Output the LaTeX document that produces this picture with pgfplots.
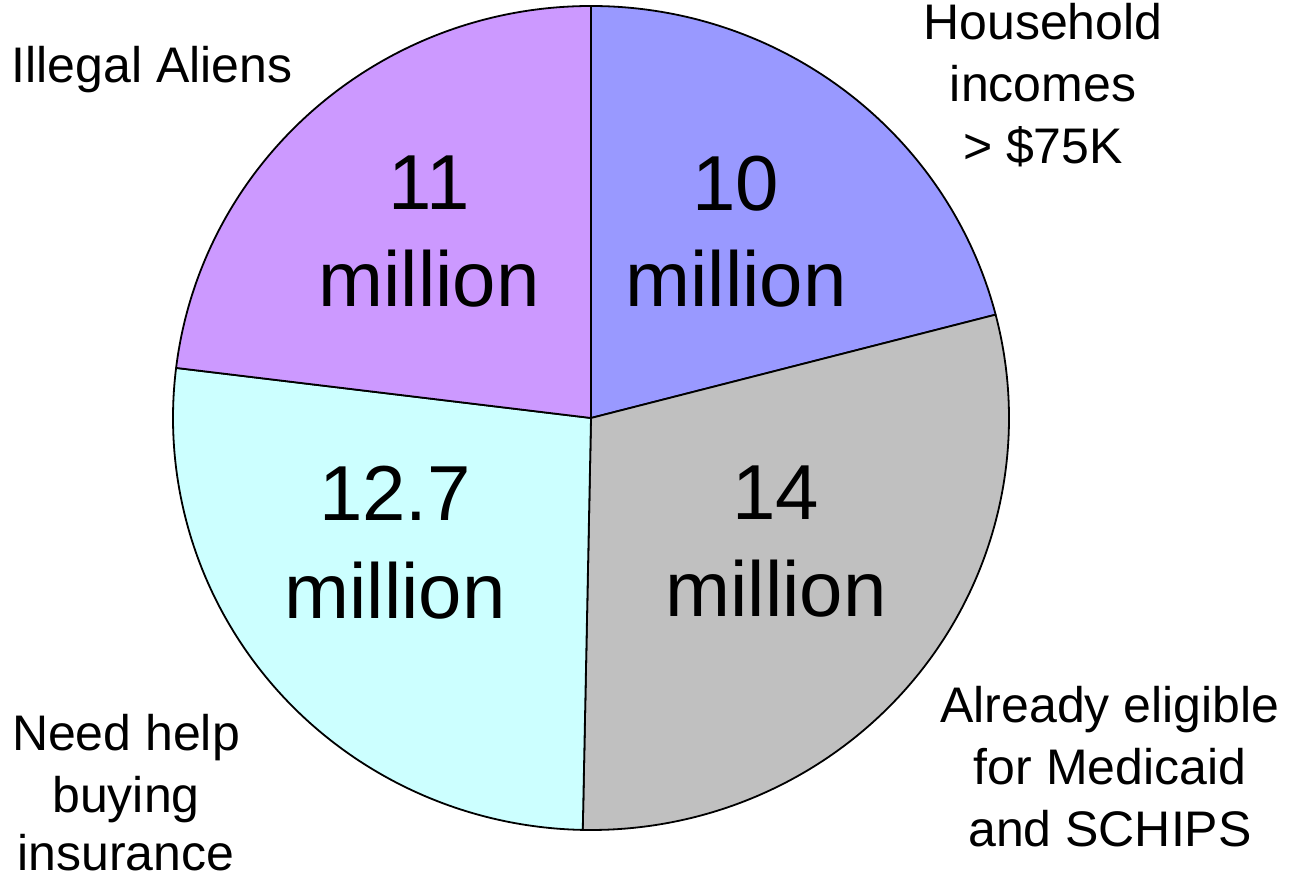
\documentclass[border=0pt]{standalone}
\usepackage{pgfplots}
\pgfplotsset{compat=1.18}
\usepackage{pgfplotstable}
\usepackage{fontspec}
\setmainfont{Liberation Sans}
\definecolor{cHouse}{HTML}{9999FF}
\definecolor{cElig}{HTML}{C0C0C0}
\definecolor{cHelp}{HTML}{CCFFFF}
\definecolor{cIll}{HTML}{CC99FF}
\pgfplotstableread{
value
10
14
12.7
11
}\piedata
\pgfplotstablegetelem{0}{value}\of\piedata\let\vA\pgfplotsretval%
\pgfplotstablegetelem{1}{value}\of\piedata\let\vB\pgfplotsretval%
\pgfplotstablegetelem{2}{value}\of\piedata\let\vC\pgfplotsretval%
\pgfplotstablegetelem{3}{value}\of\piedata\let\vD\pgfplotsretval%
\pgfmathsetmacro\tot{\vA+\vB+\vC+\vD}%
\pgfmathsetmacro\aA{90}%
\pgfmathsetmacro\aB{\aA-360*\vA/\tot}%
\pgfmathsetmacro\aC{\aB-360*\vB/\tot}%
\pgfmathsetmacro\aD{\aC-360*\vC/\tot}%
\pgfmathsetmacro\aE{\aD-360*\vD/\tot}%
\newcommand\slice[3]{%
  \filldraw[fill=#1, draw=black, line width=1.8pt, line join=round]
    (axis cs:591,461) -- (axis cs:{591+418*cos(#2)},{461+412*sin(#2)})
    arc[start angle=#2, end angle=#3, x radius=418, y radius=412] -- cycle;}
\begin{document}%
\begin{tikzpicture}
\begin{axis}[at={(0,0)}, anchor=south west, x=1pt, y=1pt,
  xmin=0, xmax=1290, ymin=0, ymax=879, hide axis, clip=false]
\slice{cHouse}{\aA}{\aB}
\slice{cElig}{\aB}{\aC}
\slice{cHelp}{\aC}{\aD}
\slice{cIll}{\aD}{\aE}
\tikzset{lab/.style={anchor=base, inner sep=0pt, font=\fontsize{50}{60}\selectfont},
         big/.style={anchor=base, inner sep=0pt, font=\fontsize{78}{94}\selectfont}}
% outer labels
\node[lab] at (axis cs:152,796) {Illegal Aliens};
\node[lab] at (axis cs:1043,839) {Household};
\node[lab] at (axis cs:1043,777) {incomes};
\node[lab] at (axis cs:1043,715) {> \$75K};
\node[lab] at (axis cs:1110,157) {Already eligible};
\node[lab] at (axis cs:1110,95) {for Medicaid};
\node[lab] at (axis cs:1110,33) {and SCHIPS};
\node[lab] at (axis cs:126,129) {Need help};
\node[lab] at (axis cs:126,67) {buying};
\node[lab, text depth=0pt] at (axis cs:126,9) {insurance};
% inner labels
\node[big] at (axis cs:429,669) {11};
\node[big] at (axis cs:429,572) {million};
\node[big] at (axis cs:736,668) {10};
\node[big] at (axis cs:736,572) {million};
\node[big] at (axis cs:776,359) {14};
\node[big] at (axis cs:776,263) {million};
\node[big] at (axis cs:395,358) {12.7};
\node[big] at (axis cs:395,261) {million};
\end{axis}
\pgfresetboundingbox
\useasboundingbox (0,0) rectangle (1290pt,879pt);
\end{tikzpicture}%
\end{document}
